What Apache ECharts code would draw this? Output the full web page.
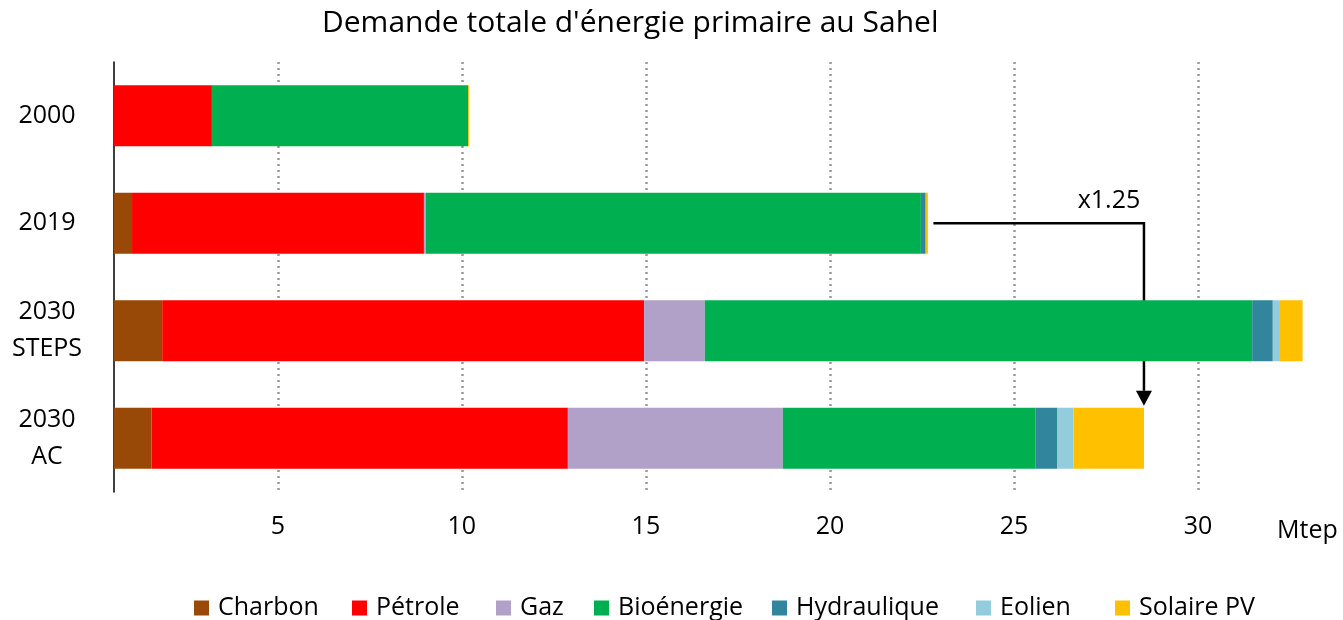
<!DOCTYPE html>
<html>
<head>
<meta charset="utf-8">
<script src="https://cdn.jsdelivr.net/npm/echarts@6/dist/echarts.min.js"></script>
<style>
  html, body { margin: 0; padding: 0; background: #fff; overflow: hidden; }
  #chart { width: 1343px; height: 620px; }
</style>
</head>
<body>
<div id="chart"></div>
<script>
// catégories (de haut en bas)
const categories = ['2000', '2019', '2030\nSTEPS', '2030\nAC']
const tickValues = [5, 10, 15, 20, 25, 30]

// valeurs en Mtep
const charbon     = [0,    1.04, 1.86,  1.57]
const petrole     = [3.21, 7.93, 13.09, 11.31]
const gaz         = [0,    0.05, 1.65,  5.84]
const bioenergie  = [6.93, 13.45, 14.87, 6.86]
const hydraulique = [0.03, 0.13, 0.56,  0.6]
const eolien      = [0,    0,    0.17,  0.43]
const solaire     = [0.03, 0.06, 0.64,  1.92]

const seriesDefs = [
  { name: 'Charbon', data: charbon, color: '#984807' },
  { name: 'Pétrole', data: petrole, color: '#FF0000' },
  { name: 'Gaz', data: gaz, color: '#B1A0C7' },
  { name: 'Bioénergie', data: bioenergie, color: '#00B050' },
  { name: 'Hydraulique', data: hydraulique, color: '#31859C' },
  { name: 'Eolien', data: eolien, color: '#93CDDD' },
  { name: 'Solaire PV', data: solaire, color: '#FFC000' }
]
// position horizontale de chaque entrée de légende
const legendLeft = [189, 347, 491, 589, 767, 971, 1110]

const font = '"Open Sans", "Noto Sans", sans-serif'
const chart = echarts.init(document.getElementById('chart'))

const option = {
  animation: false,
  title: {
    text: "Demande totale d'énergie primaire au Sahel",
    left: 317,
    top: 3,
    textStyle: { fontFamily: font, fontSize: 30, fontWeight: 'normal', color: '#000' }
  },
  legend: seriesDefs.map((s, i) => ({
    left: legendLeft[i],
    top: 588,
    itemWidth: 15,
    itemHeight: 15,
    icon: 'rect',
    textStyle: { fontFamily: font, fontSize: 25, color: '#000', lineHeight: 30, padding: [0, 0, 0, 4] },
    data: [s.name]
  })),
  grid: {
    left: 114,
    right: 34.5,
    top: 62,
    height: 430
  },
  xAxis: {
    type: 'value',
    min: 0.55,
    max: 33,
    name: 'Mtep',
    nameLocation: 'end',
    nameGap: -31.5,
    nameTextStyle: {
      fontFamily: font, fontSize: 25, color: '#000',
      align: 'left', verticalAlign: 'top', padding: [26, 0, 0, 0]
    },
    axisLine: { show: false },
    axisTick: { show: false, customValues: tickValues },
    axisLabel: {
      customValues: tickValues,
      margin: 22,
      fontFamily: font, fontSize: 25, color: '#000'
    },
    splitLine: {
      show: true,
      lineStyle: { color: '#999999', width: 2.5, type: [2, 4] }
    }
  },
  yAxis: {
    type: 'category',
    inverse: true,
    data: categories,
    axisLine: { show: true, lineStyle: { color: '#000', width: 1.5 } },
    axisTick: { show: false },
    axisLabel: {
      margin: 67,
      align: 'center',
      lineHeight: 37,
      fontFamily: font, fontSize: 25, color: '#000'
    }
  },
  series: seriesDefs.map(s => ({
    name: s.name,
    type: 'bar',
    stack: 'total',
    barWidth: 61,
    data: s.data,
    itemStyle: { color: s.color }
  }))
}

chart.setOption(option)

// flèche x1.25 entre 2019 et 2030 AC
const total = i => seriesDefs.reduce((acc, s) => acc + s.data[i], 0)
const t2019 = total(1)
const tAC = total(3)
const pStart = chart.convertToPixel({ gridIndex: 0 }, [t2019 + 0.15, 1])
const pCorner = chart.convertToPixel({ gridIndex: 0 }, [tAC, 1])
const pAC = chart.convertToPixel({ gridIndex: 0 }, [tAC, 3])
const barTop = pAC[1] - 61 / 2 - 2
const headH = 15

chart.setOption({
  graphic: [
    {
      type: 'polyline',
      shape: { points: [pStart, pCorner, [pCorner[0], barTop - headH]] },
      style: { stroke: '#000', lineWidth: 2.5, fill: null }
    },
    {
      type: 'polygon',
      shape: { points: [[pCorner[0] - 8, barTop - headH], [pCorner[0] + 8, barTop - headH], [pCorner[0], barTop]] },
      style: { fill: '#000' }
    },
    {
      type: 'text',
      x: pCorner[0] - 35,
      y: pCorner[1] - 22,
      style: {
        text: 'x1.25',
        font: '25px ' + font,
        fill: '#000',
        align: 'center',
        verticalAlign: 'middle'
      }
    }
  ]
})
</script>
</body>
</html>
